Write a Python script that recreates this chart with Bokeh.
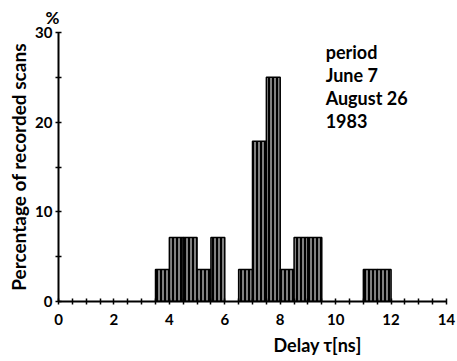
from bokeh.plotting import figure
from bokeh.models import Range1d, FixedTicker, Label, Title
from bokeh.embed import file_html
from bokeh.resources import INLINE

# Data: 0.5 ns bins, percentage of 28 recorded scans
bin_left = [3.5, 4.0, 4.5, 5.0, 5.5, 6.5, 7.0, 7.5, 8.0, 8.5, 9.0, 11.0, 11.5]
percent = [3.57, 7.14, 7.14, 3.57, 7.14, 3.57, 17.86, 25.0, 3.57, 7.14, 7.14, 3.57, 3.57]
bin_width = 0.5

x_ticks = [i * 0.5 for i in range(29)]
x_labels = [0, 2, 4, 6, 8, 10, 12, 14]
y_ticks = [0, 5, 10, 15, 20, 25, 30]
y_labels = [0, 10, 20, 30]
period_lines = ["period", "June 7", "August 26", "1983"]

FONT = "Lato"

p = figure(width=457, height=361, output_backend="svg", toolbar_location=None,
           x_range=Range1d(0, 14), y_range=Range1d(0, 30),
           frame_width=388, frame_height=269,
           min_border_left=58, min_border_right=11, min_border_top=32, min_border_bottom=60)
p.outline_line_color = None
p.grid.visible = False
p.background_fill_color = "white"

centers = [b + bin_width / 2 for b in bin_left]
p.vbar(x=centers, top=percent, width=bin_width, bottom=0,
       fill_color="black", line_color="black", line_width=1.5,
       hatch_pattern="vertical_line", hatch_color="white", hatch_weight=1, hatch_scale=4)

for ax in (p.xaxis[0], p.yaxis[0]):
    ax.axis_line_width = 2
    ax.axis_line_color = "black"
    ax.major_tick_in = 3
    ax.major_tick_out = 3
    ax.major_tick_line_width = 1.5
    ax.minor_tick_line_color = None
    ax.major_label_text_font = FONT
    ax.major_label_text_font_size = "15px"
    ax.major_label_text_font_style = "bold"
    ax.major_label_text_color = "black"

p.xaxis.ticker = FixedTicker(ticks=x_ticks)
p.xaxis.major_label_overrides = {t: (str(int(t)) if (t in x_labels) else "") for t in x_ticks}
p.xaxis.major_label_standoff = 9
p.yaxis.ticker = FixedTicker(ticks=y_ticks)
p.yaxis.major_label_overrides = {t: (str(t) if t in y_labels else "") for t in y_ticks}
p.yaxis.major_label_standoff = 3

p.yaxis.axis_label = "Percentage of recorded scans"
p.yaxis.axis_label_text_font = FONT
p.yaxis.axis_label_text_font_style = "bold"
p.yaxis.axis_label_text_font_size = "19px"
p.yaxis.axis_label_text_color = "black"
p.yaxis.axis_label_standoff = 2

p.add_layout(Title(text="%", align="left", offset=-13, text_font=FONT,
                   text_font_size="17px", text_font_style="bold", text_color="black",
                   standoff=9), "above")
p.add_layout(Title(text="Delay τ[ns]", align="left", offset=215, text_font=FONT,
                   text_font_size="18px", text_font_style="bold", text_color="black",
                   standoff=8), "below")
for i, line in enumerate(period_lines):
    p.add_layout(Label(x=9.64, y=27.87 - i * 2.57, text=line, text_font=FONT,
                       text_font_size="18px", text_font_style="bold", text_color="black",
                       text_align="left", text_baseline="middle"))

open("out.html", "w").write(file_html(p, INLINE))
